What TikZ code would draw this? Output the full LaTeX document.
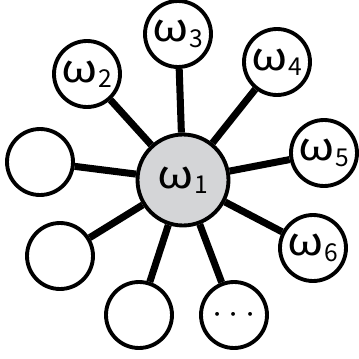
\documentclass[tikz,border=0pt]{standalone}
\usepackage{fontspec}
\setmainfont{Noto Sans CJK JP}
\usepackage{tikz}
\definecolor{hubgray}{RGB}{212,213,215}
\newcommand{\wlabel}[1]{\fontsize{22}{26}\selectfont \scalebox{1.2}[1]{ω}\kern0.5pt\raisebox{-3pt}{\fontsize{14}{16}\selectfont #1}}

\begin{document}
\begin{tikzpicture}[x=0.02cm,y=-0.02cm,
    leaf/.style={circle,draw,line width=2.2pt,fill=white,minimum size=1.32cm,inner sep=0pt},
    hub/.style={circle,draw,line width=2.2pt,fill=hubgray,minimum size=1.82cm,inner sep=0pt},
    link/.style={line width=4pt}]
    \useasboundingbox (0,0) rectangle (359,359);
    \node[hub] (W1) at (183,180) {\wlabel{1}};
    \node[leaf] (W2) at (87,74) {\wlabel{2}};
    \node[leaf] (W3) at (178,34) {\wlabel{3}};
    \node[leaf] (W4) at (277,62) {\wlabel{4}};
    \node[leaf] (W5) at (324,153) {\wlabel{5}};
    \node[leaf] (W6) at (313,248) {\wlabel{6}};
    \node[leaf] (D1) at (234,315) {\raisebox{-4pt}{\fontsize{20}{24}\selectfont $\cdots$}};
    \node[leaf] (E1) at (139,315) {};
    \node[leaf] (E2) at (60,256) {};
    \node[leaf] (E3) at (40,162) {};
    % spokes from the hub
    \foreach \n in {W2,W3,W4,W5,W6,D1,E1,E2,E3}
        \draw[link] (W1) -- (\n);
\end{tikzpicture}
\end{document}
